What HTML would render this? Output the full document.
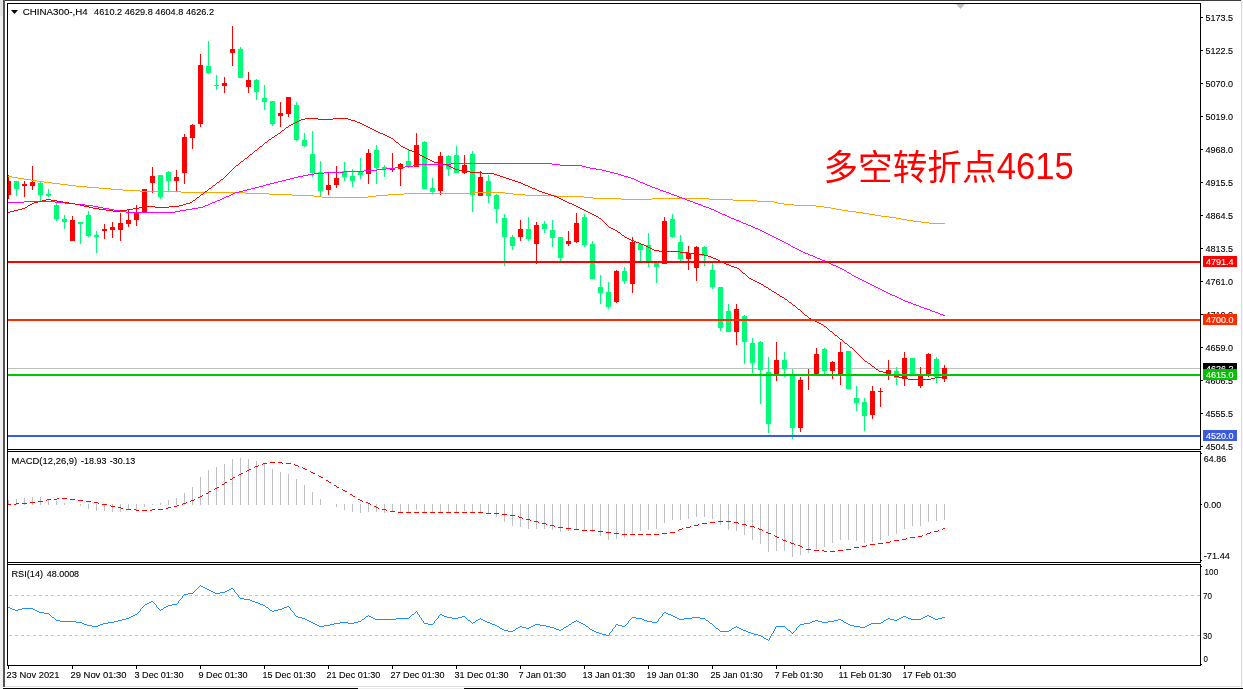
<!DOCTYPE html>
<html><head><meta charset="utf-8"><title>CHINA300 H4</title>
<style>html,body{margin:0;padding:0;background:#fff;}svg{display:block}text{font-family:"Liberation Sans",sans-serif;font-size:9.8px;fill:#000;stroke:#000;stroke-width:0.12px}.w{fill:#fff;stroke:#fff}.cr{shape-rendering:crispEdges}</style></head><body>
<svg width="1243" height="689" viewBox="0 0 1243 689">
<rect width="1243" height="689" fill="#fff"/>
<g class="cr">
<rect x="0" y="0" width="3" height="16" fill="#e4e4e4"/>
<rect x="0" y="16" width="3" height="673" fill="#f1f1f1"/>
<rect x="3" y="0" width="1238" height="1" fill="#3c3c3c"/>
<rect x="3" y="0" width="2" height="687" fill="#555"/>
<rect x="1241" y="0" width="1" height="687" fill="#dcdcdc"/>
<rect x="1242" y="0" width="1" height="689" fill="#f4f4f4"/>
<rect x="5" y="686" width="1237" height="1" fill="#e2e2e2"/>
<rect x="3" y="688" width="355" height="1" fill="#000"/>
<rect x="358" y="688" width="106" height="1" fill="#ececec"/>
<rect x="464" y="688" width="779" height="1" fill="#000"/>
</g>
<g class="cr">
<rect x="8" y="368" width="1192" height="1" fill="#c0c0c0"/>
<path d="M956 4H965L960.5 9Z" fill="#c0c0c0" shape-rendering="auto"/>
<clipPath id="cm"><rect x="8" y="4" width="1192" height="445"/></clipPath>
<g clip-path="url(#cm)">
<path d="M8 175h1v24h-1zM6 181h5v14h-5zM24 181h1v16h-1zM22 184h5v2h-5zM32 166h1v24h-1zM30 182h5v4h-5zM72 216h1v25h-1zM70 220h5v21h-5zM104 224h1v15h-1zM102 229h5v2h-5zM112 222h1v16h-1zM110 227h5v3h-5zM120 213h1v28h-1zM118 223h5v7h-5zM128 210h1v17h-1zM126 220h5v4h-5zM136 205h1v21h-1zM134 212h5v8h-5zM144 189h1v24h-1zM142 189h5v24h-5zM152 167h1v26h-1zM150 176h5v7h-5zM176 170h1v22h-1zM174 177h5v4h-5zM184 134h1v50h-1zM182 137h5v36h-5zM192 124h1v25h-1zM190 125h5v13h-5zM200 54h1v73h-1zM198 65h5v59h-5zM224 77h1v16h-1zM222 83h5v3h-5zM232 26h1v40h-1zM230 49h5v4h-5zM248 72h1v21h-1zM246 80h5v7h-5zM280 102h1v25h-1zM278 113h5v3h-5zM288 97h1v20h-1zM286 97h5v17h-5zM328 172h1v23h-1zM326 185h5v5h-5zM336 166h1v22h-1zM334 178h5v7h-5zM368 149h1v35h-1zM366 153h5v21h-5zM392 153h1v19h-1zM390 168h5v2h-5zM400 163h1v23h-1zM398 164h5v5h-5zM416 133h1v34h-1zM414 145h5v22h-5zM440 152h1v43h-1zM438 156h5v35h-5zM464 155h1v19h-1zM462 165h5v8h-5zM480 171h1v25h-1zM478 177h5v19h-5zM520 220h1v21h-1zM518 229h5v8h-5zM536 222h1v42h-1zM534 225h5v19h-5zM568 231h1v15h-1zM566 241h5v3h-5zM576 213h1v30h-1zM574 223h5v19h-5zM616 270h1v33h-1zM614 271h5v31h-5zM632 237h1v56h-1zM630 242h5v42h-5zM664 217h1v47h-1zM662 221h5v43h-5zM688 246h1v24h-1zM686 253h5v6h-5zM696 246h1v35h-1zM694 247h5v21h-5zM736 304h1v41h-1zM734 309h5v23h-5zM776 342h1v39h-1zM774 360h5v14h-5zM800 377h1v55h-1zM798 380h5v48h-5zM808 369h1v21h-1zM806 374h5v2h-5zM816 348h1v26h-1zM814 354h5v20h-5zM832 361h1v18h-1zM830 362h5v9h-5zM840 342h1v43h-1zM838 352h5v22h-5zM872 386h1v33h-1zM870 391h5v24h-5zM880 388h1v19h-1zM878 391h5v1h-5zM888 360h1v20h-1zM886 370h5v4h-5zM904 352h1v34h-1zM902 358h5v21h-5zM920 367h1v21h-1zM918 375h5v11h-5zM928 353h1v24h-1zM926 354h5v21h-5zM944 365h1v17h-1zM942 368h5v11h-5z" fill="#ff0000"/>
<path d="M16 181h1v15h-1zM14 181h5v8h-5zM40 181h1v20h-1zM38 183h5v12h-5zM48 189h1v8h-1zM46 194h5v2h-5zM56 203h1v18h-1zM54 205h5v14h-5zM64 215h1v14h-1zM62 219h5v3h-5zM80 222h1v22h-1zM78 222h5v2h-5zM88 211h1v26h-1zM86 215h5v21h-5zM96 231h1v22h-1zM94 235h5v2h-5zM160 175h1v24h-1zM158 175h5v22h-5zM168 171h1v21h-1zM166 172h5v9h-5zM208 41h1v33h-1zM206 66h5v7h-5zM216 75h1v15h-1zM214 85h5v1h-5zM240 47h1v31h-1zM238 49h5v29h-5zM256 79h1v21h-1zM254 80h5v12h-5zM264 85h1v25h-1zM262 98h5v4h-5zM272 101h1v25h-1zM270 101h5v23h-5zM296 102h1v39h-1zM294 105h5v35h-5zM304 133h1v14h-1zM302 140h5v6h-5zM312 131h1v46h-1zM310 154h5v19h-5zM320 161h1v35h-1zM318 172h5v19h-5zM344 162h1v19h-1zM342 171h5v6h-5zM352 169h1v18h-1zM350 176h5v5h-5zM360 158h1v21h-1zM358 171h5v4h-5zM376 145h1v39h-1zM374 150h5v18h-5zM384 165h1v12h-1zM382 167h5v2h-5zM408 150h1v18h-1zM406 161h5v5h-5zM424 141h1v48h-1zM422 142h5v47h-5zM432 178h1v15h-1zM430 188h5v4h-5zM448 155h1v21h-1zM446 156h5v13h-5zM456 146h1v27h-1zM454 155h5v18h-5zM472 151h1v61h-1zM470 154h5v41h-5zM488 175h1v28h-1zM486 181h5v15h-5zM496 194h1v29h-1zM494 195h5v14h-5zM504 214h1v52h-1zM502 218h5v19h-5zM512 235h1v15h-1zM510 237h5v9h-5zM528 217h1v24h-1zM526 229h5v10h-5zM544 221h1v12h-1zM542 224h5v5h-5zM552 220h1v27h-1zM550 230h5v8h-5zM560 237h1v25h-1zM558 237h5v21h-5zM584 214h1v33h-1zM582 217h5v28h-5zM592 241h1v38h-1zM590 244h5v35h-5zM600 275h1v29h-1zM598 287h5v6h-5zM608 282h1v27h-1zM606 292h5v15h-5zM624 267h1v17h-1zM622 271h5v10h-5zM640 243h1v18h-1zM638 244h5v6h-5zM648 233h1v34h-1zM646 245h5v16h-5zM656 262h1v21h-1zM654 263h5v4h-5zM672 214h1v24h-1zM670 219h5v18h-5zM680 235h1v26h-1zM678 242h5v17h-5zM704 246h1v20h-1zM702 247h5v9h-5zM712 261h1v28h-1zM710 270h5v17h-5zM720 287h1v44h-1zM718 287h5v41h-5zM728 304h1v28h-1zM726 311h5v21h-5zM744 315h1v49h-1zM742 316h5v26h-5zM752 338h1v35h-1zM750 343h5v20h-5zM760 341h1v63h-1zM758 342h5v28h-5zM768 357h1v76h-1zM766 372h5v52h-5zM784 352h1v25h-1zM782 360h5v9h-5zM792 369h1v70h-1zM790 374h5v54h-5zM824 348h1v26h-1zM822 349h5v22h-5zM848 351h1v38h-1zM846 351h5v38h-5zM856 386h1v25h-1zM854 398h5v5h-5zM864 398h1v33h-1zM862 402h5v14h-5zM896 367h1v18h-1zM894 371h5v7h-5zM912 358h1v17h-1zM910 358h5v17h-5zM936 357h1v26h-1zM934 359h5v18h-5z" fill="#00fd78"/>
</g>
<path d="M8 176h4v1h-4zM12 177h6v1h-6zM18 178h6v1h-6zM24 179h7v1h-7zM31 180h6v1h-6zM37 181h7v1h-7zM44 182h8v1h-8zM52 183h8v1h-8zM60 184h8v1h-8zM68 185h8v1h-8zM76 186h11v1h-11zM87 187h12v1h-12zM99 188h12v1h-12zM111 189h12v1h-12zM123 190h17v1h-17zM140 191h41v1h-41zM181 192h64v1h-64zM472 192h33v1h-33zM245 193h24v1h-24zM404 193h68v1h-68zM505 193h8v1h-8zM269 194h23v1h-23zM388 194h16v1h-16zM513 194h12v1h-12zM292 195h22v1h-22zM376 195h12v1h-12zM525 195h31v1h-31zM314 196h8v1h-8zM368 196h8v1h-8zM556 196h28v1h-28zM322 197h46v1h-46zM584 197h9v1h-9zM593 198h28v1h-28zM652 198h57v1h-57zM621 199h31v1h-31zM709 199h24v1h-24zM733 200h24v1h-24zM757 201h17v1h-17zM774 202h4v1h-4zM778 203h6v1h-6zM784 204h10v1h-10zM794 205h22v1h-22zM816 206h8v1h-8zM824 207h7v1h-7zM831 208h5v1h-5zM836 209h6v1h-6zM842 210h6v1h-6zM848 211h8v1h-8zM856 212h7v1h-7zM863 213h6v1h-6zM869 214h6v1h-6zM875 215h6v1h-6zM881 216h8v1h-8zM889 217h7v1h-7zM896 218h5v1h-5zM901 219h6v1h-6zM907 220h6v1h-6zM913 221h8v1h-8zM921 222h8v1h-8zM929 223h16v1h-16z" fill="#ffa500"/>
<path d="M451 163h101v1h-101zM419 164h32v1h-32zM552 164h8v1h-8zM413 165h6v1h-6zM560 165h22v1h-22zM405 166h8v1h-8zM582 166h4v1h-4zM395 167h10v1h-10zM586 167h4v1h-4zM386 168h9v1h-9zM590 168h6v1h-6zM377 169h9v1h-9zM596 169h6v1h-6zM364 170h13v1h-13zM602 170h4v1h-4zM344 171h20v1h-20zM606 171h4v1h-4zM324 172h20v1h-20zM610 172h4v1h-4zM314 173h10v1h-10zM614 173h4v1h-4zM308 174h6v1h-6zM618 174h3v1h-3zM303 175h5v1h-5zM621 175h3v1h-3zM298 176h5v1h-5zM624 176h4v1h-4zM294 177h4v1h-4zM628 177h3v1h-3zM290 178h4v1h-4zM631 178h3v1h-3zM286 179h4v1h-4zM634 179h2v1h-2zM282 180h4v1h-4zM636 180h2v1h-2zM278 181h4v1h-4zM638 181h2v1h-2zM274 182h4v1h-4zM640 182h3v1h-3zM270 183h4v1h-4zM643 183h2v1h-2zM266 184h4v1h-4zM645 184h2v1h-2zM263 185h3v1h-3zM647 185h3v1h-3zM259 186h4v1h-4zM650 186h2v1h-2zM255 187h4v1h-4zM652 187h3v1h-3zM251 188h4v1h-4zM655 188h3v1h-3zM247 189h4v1h-4zM658 189h2v1h-2zM243 190h4v1h-4zM660 190h3v1h-3zM239 191h4v1h-4zM663 191h3v1h-3zM235 192h4v1h-4zM666 192h3v1h-3zM233 193h2v1h-2zM669 193h2v1h-2zM231 194h2v1h-2zM671 194h3v1h-3zM229 195h2v1h-2zM674 195h3v1h-3zM226 196h3v1h-3zM677 196h2v1h-2zM224 197h2v1h-2zM679 197h3v1h-3zM222 198h2v1h-2zM682 198h3v1h-3zM220 199h2v1h-2zM685 199h2v1h-2zM217 200h3v1h-3zM687 200h3v1h-3zM24 201h31v1h-31zM215 201h2v1h-2zM690 201h3v1h-3zM8 202h16v1h-16zM55 202h10v1h-10zM212 202h3v1h-3zM693 202h2v1h-2zM65 203h10v1h-10zM210 203h2v1h-2zM695 203h3v1h-3zM75 204h10v1h-10zM208 204h2v1h-2zM698 204h3v1h-3zM85 205h8v1h-8zM205 205h3v1h-3zM701 205h2v1h-2zM93 206h5v1h-5zM203 206h2v1h-2zM703 206h3v1h-3zM98 207h5v1h-5zM198 207h5v1h-5zM706 207h3v1h-3zM103 208h6v1h-6zM192 208h6v1h-6zM709 208h2v1h-2zM109 209h5v1h-5zM186 209h6v1h-6zM711 209h3v1h-3zM114 210h6v1h-6zM180 210h6v1h-6zM714 210h2v1h-2zM120 211h6v1h-6zM175 211h5v1h-5zM716 211h2v1h-2zM126 212h49v1h-49zM718 212h2v1h-2zM720 213h2v1h-2zM722 214h3v1h-3zM725 215h2v1h-2zM727 216h2v1h-2zM729 217h2v1h-2zM731 218h3v1h-3zM734 219h2v1h-2zM736 220h3v1h-3zM739 221h2v1h-2zM741 222h2v1h-2zM743 223h3v1h-3zM746 224h2v1h-2zM748 225h3v1h-3zM751 226h2v1h-2zM753 227h2v1h-2zM755 228h3v1h-3zM758 229h2v1h-2zM760 230h2v1h-2zM762 231h2v1h-2zM764 232h2v1h-2zM766 233h2v1h-2zM768 234h2v1h-2zM770 235h2v1h-2zM772 236h2v1h-2zM774 237h2v1h-2zM776 238h2v1h-2zM778 239h2v1h-2zM780 240h2v1h-2zM782 241h2v1h-2zM784 242h2v1h-2zM786 243h2v1h-2zM788 244h2v1h-2zM790 245h1v1h-1zM791 246h2v1h-2zM793 247h2v1h-2zM795 248h2v1h-2zM797 249h2v1h-2zM799 250h2v1h-2zM801 251h2v1h-2zM803 252h2v1h-2zM805 253h3v1h-3zM808 254h2v1h-2zM810 255h3v1h-3zM813 256h2v1h-2zM815 257h2v1h-2zM817 258h3v1h-3zM820 259h2v1h-2zM822 260h3v1h-3zM825 261h2v1h-2zM827 262h2v1h-2zM829 263h2v1h-2zM831 264h2v1h-2zM833 265h3v1h-3zM836 266h2v1h-2zM838 267h2v1h-2zM840 268h2v1h-2zM842 269h2v1h-2zM844 270h2v1h-2zM846 271h1v1h-1zM847 272h2v1h-2zM849 273h2v1h-2zM851 274h1v1h-1zM852 275h2v1h-2zM854 276h2v1h-2zM856 277h2v1h-2zM858 278h2v1h-2zM860 279h2v1h-2zM862 280h2v1h-2zM864 281h2v1h-2zM866 282h2v1h-2zM868 283h2v1h-2zM870 284h2v1h-2zM872 285h2v1h-2zM874 286h2v1h-2zM876 287h2v1h-2zM878 288h2v1h-2zM880 289h2v1h-2zM882 290h2v1h-2zM884 291h2v1h-2zM886 292h2v1h-2zM888 293h2v1h-2zM890 294h2v1h-2zM892 295h3v1h-3zM895 296h2v1h-2zM897 297h2v1h-2zM899 298h2v1h-2zM901 299h2v1h-2zM903 300h2v1h-2zM905 301h3v1h-3zM908 302h3v1h-3zM911 303h2v1h-2zM913 304h3v1h-3zM916 305h3v1h-3zM919 306h2v1h-2zM921 307h3v1h-3zM924 308h3v1h-3zM927 309h3v1h-3zM930 310h2v1h-2zM932 311h3v1h-3zM935 312h3v1h-3zM938 313h2v1h-2zM940 314h3v1h-3zM943 315h2v1h-2z" fill="#ff00ff"/>
<path d="M305 118h13v1h-13zM333 118h15v1h-15zM301 119h4v1h-4zM318 119h15v1h-15zM348 119h3v1h-3zM299 120h2v1h-2zM351 120h4v1h-4zM297 121h2v1h-2zM355 121h2v1h-2zM295 122h2v1h-2zM357 122h3v1h-3zM293 123h2v1h-2zM360 123h2v1h-2zM291 124h2v1h-2zM362 124h2v1h-2zM289 125h2v1h-2zM364 125h2v1h-2zM288 126h1v1h-1zM366 126h2v1h-2zM286 127h2v1h-2zM368 127h2v1h-2zM285 128h1v1h-1zM370 128h2v1h-2zM284 129h1v1h-1zM372 129h2v1h-2zM282 130h2v1h-2zM374 130h2v1h-2zM281 131h1v1h-1zM376 131h2v1h-2zM280 132h1v1h-1zM378 132h2v1h-2zM278 133h2v1h-2zM380 133h3v1h-3zM277 134h1v1h-1zM383 134h2v1h-2zM275 135h2v1h-2zM385 135h2v1h-2zM274 136h1v1h-1zM387 136h2v1h-2zM272 137h2v1h-2zM389 137h2v1h-2zM271 138h1v1h-1zM391 138h2v1h-2zM269 139h2v1h-2zM393 139h1v1h-1zM268 140h1v1h-1zM394 140h1v1h-1zM267 141h1v1h-1zM395 141h1v1h-1zM265 142h2v1h-2zM396 142h2v1h-2zM264 143h1v1h-1zM398 143h1v1h-1zM263 144h1v1h-1zM399 144h1v1h-1zM262 145h1v1h-1zM400 145h1v1h-1zM260 146h2v1h-2zM401 146h2v1h-2zM259 147h1v1h-1zM403 147h2v1h-2zM258 148h1v1h-1zM405 148h2v1h-2zM257 149h1v1h-1zM407 149h2v1h-2zM255 150h2v1h-2zM409 150h3v1h-3zM254 151h1v1h-1zM412 151h2v1h-2zM253 152h1v1h-1zM414 152h2v1h-2zM252 153h1v1h-1zM416 153h2v1h-2zM250 154h2v1h-2zM418 154h2v1h-2zM249 155h1v1h-1zM420 155h2v1h-2zM248 156h1v1h-1zM422 156h2v1h-2zM247 157h1v1h-1zM424 157h2v1h-2zM245 158h2v1h-2zM426 158h2v1h-2zM244 159h1v1h-1zM428 159h2v1h-2zM243 160h1v1h-1zM430 160h2v1h-2zM241 161h2v1h-2zM432 161h2v1h-2zM240 162h1v1h-1zM434 162h4v1h-4zM239 163h1v1h-1zM438 163h5v1h-5zM238 164h1v1h-1zM443 164h4v1h-4zM236 165h2v1h-2zM447 165h2v1h-2zM235 166h1v1h-1zM449 166h2v1h-2zM234 167h1v1h-1zM451 167h2v1h-2zM233 168h1v1h-1zM453 168h2v1h-2zM232 169h1v1h-1zM455 169h4v1h-4zM231 170h1v1h-1zM459 170h5v1h-5zM230 171h1v1h-1zM464 171h6v1h-6zM229 172h1v1h-1zM470 172h12v1h-12zM228 173h1v1h-1zM482 173h12v1h-12zM227 174h1v1h-1zM494 174h3v1h-3zM226 175h1v1h-1zM497 175h3v1h-3zM225 176h1v1h-1zM500 176h3v1h-3zM224 177h1v1h-1zM503 177h3v1h-3zM223 178h1v1h-1zM506 178h3v1h-3zM221 179h2v1h-2zM509 179h3v1h-3zM220 180h1v1h-1zM512 180h3v1h-3zM219 181h1v1h-1zM515 181h3v1h-3zM217 182h2v1h-2zM518 182h3v1h-3zM216 183h1v1h-1zM521 183h2v1h-2zM215 184h1v1h-1zM523 184h2v1h-2zM213 185h2v1h-2zM525 185h3v1h-3zM212 186h1v1h-1zM528 186h2v1h-2zM211 187h1v1h-1zM530 187h2v1h-2zM209 188h2v1h-2zM532 188h3v1h-3zM208 189h1v1h-1zM535 189h2v1h-2zM207 190h1v1h-1zM537 190h2v1h-2zM205 191h2v1h-2zM539 191h3v1h-3zM204 192h1v1h-1zM542 192h3v1h-3zM203 193h1v1h-1zM545 193h3v1h-3zM201 194h2v1h-2zM548 194h3v1h-3zM200 195h1v1h-1zM551 195h3v1h-3zM199 196h1v1h-1zM554 196h3v1h-3zM197 197h2v1h-2zM557 197h2v1h-2zM196 198h1v1h-1zM559 198h2v1h-2zM46 199h5v1h-5zM195 199h1v1h-1zM561 199h2v1h-2zM42 200h4v1h-4zM51 200h6v1h-6zM193 200h2v1h-2zM563 200h2v1h-2zM38 201h4v1h-4zM57 201h6v1h-6zM192 201h1v1h-1zM565 201h2v1h-2zM34 202h4v1h-4zM63 202h6v1h-6zM190 202h2v1h-2zM567 202h2v1h-2zM32 203h2v1h-2zM69 203h6v1h-6zM186 203h4v1h-4zM569 203h3v1h-3zM30 204h2v1h-2zM75 204h5v1h-5zM183 204h3v1h-3zM572 204h2v1h-2zM28 205h2v1h-2zM80 205h4v1h-4zM179 205h4v1h-4zM574 205h2v1h-2zM27 206h1v1h-1zM84 206h5v1h-5zM146 206h9v1h-9zM169 206h10v1h-10zM576 206h2v1h-2zM25 207h2v1h-2zM89 207h4v1h-4zM139 207h7v1h-7zM155 207h14v1h-14zM578 207h2v1h-2zM22 208h3v1h-3zM93 208h6v1h-6zM133 208h6v1h-6zM580 208h2v1h-2zM18 209h4v1h-4zM99 209h7v1h-7zM127 209h6v1h-6zM582 209h2v1h-2zM14 210h4v1h-4zM106 210h7v1h-7zM120 210h7v1h-7zM584 210h2v1h-2zM10 211h4v1h-4zM113 211h7v1h-7zM586 211h2v1h-2zM8 212h2v1h-2zM588 212h2v1h-2zM590 213h2v1h-2zM592 214h2v1h-2zM594 215h2v1h-2zM596 216h2v1h-2zM598 217h1v1h-1zM599 218h2v1h-2zM601 219h1v1h-1zM602 220h1v1h-1zM603 221h1v1h-1zM604 222h1v1h-1zM605 223h1v1h-1zM606 224h1v1h-1zM607 225h1v1h-1zM608 226h1v1h-1zM609 227h2v1h-2zM611 228h2v1h-2zM613 229h2v1h-2zM615 230h2v1h-2zM617 231h1v1h-1zM618 232h2v1h-2zM620 233h1v1h-1zM621 234h1v1h-1zM622 235h2v1h-2zM624 236h1v1h-1zM625 237h2v1h-2zM627 238h2v1h-2zM629 239h2v1h-2zM631 240h3v1h-3zM634 241h2v1h-2zM636 242h3v1h-3zM639 243h2v1h-2zM641 244h3v1h-3zM644 245h2v1h-2zM646 246h2v1h-2zM648 247h2v1h-2zM650 248h2v1h-2zM652 249h2v1h-2zM654 250h5v1h-5zM659 251h21v1h-21zM680 252h8v1h-8zM688 253h10v1h-10zM698 254h6v1h-6zM704 255h4v1h-4zM708 256h3v1h-3zM711 257h2v1h-2zM713 258h3v1h-3zM716 259h2v1h-2zM718 260h2v1h-2zM720 261h2v1h-2zM722 262h2v1h-2zM724 263h2v1h-2zM726 264h3v1h-3zM729 265h2v1h-2zM731 266h3v1h-3zM734 267h3v1h-3zM737 268h2v1h-2zM739 269h1v1h-1zM740 270h1v1h-1zM741 271h1v1h-1zM742 272h1v1h-1zM743 273h2v1h-2zM745 274h1v1h-1zM746 275h1v1h-1zM747 276h1v1h-1zM748 277h1v1h-1zM749 278h2v1h-2zM751 279h2v1h-2zM753 280h2v1h-2zM755 281h2v1h-2zM757 282h2v1h-2zM759 283h2v1h-2zM761 284h2v1h-2zM763 285h1v1h-1zM764 286h2v1h-2zM766 287h2v1h-2zM768 288h1v1h-1zM769 289h2v1h-2zM771 290h1v1h-1zM772 291h2v1h-2zM774 292h2v1h-2zM776 293h1v1h-1zM777 294h2v1h-2zM779 295h1v1h-1zM780 296h2v1h-2zM782 297h2v1h-2zM784 298h1v1h-1zM785 299h2v1h-2zM787 300h1v1h-1zM788 301h1v1h-1zM789 302h2v1h-2zM791 303h1v1h-1zM792 304h1v1h-1zM793 305h2v1h-2zM795 306h1v1h-1zM796 307h1v1h-1zM797 308h1v1h-1zM798 309h2v1h-2zM800 310h1v1h-1zM801 311h1v1h-1zM802 312h1v1h-1zM803 313h1v1h-1zM804 314h1v1h-1zM805 315h2v1h-2zM807 316h1v1h-1zM808 317h1v1h-1zM809 318h2v1h-2zM811 319h2v1h-2zM813 320h2v1h-2zM815 321h2v1h-2zM817 322h2v1h-2zM819 323h2v1h-2zM821 324h2v1h-2zM823 325h1v1h-1zM824 326h2v1h-2zM826 327h1v1h-1zM827 328h1v1h-1zM828 329h1v1h-1zM829 330h1v1h-1zM830 331h2v1h-2zM832 332h1v1h-1zM833 333h1v1h-1zM834 334h1v1h-1zM835 335h2v1h-2zM837 336h1v1h-1zM838 337h1v1h-1zM839 338h1v1h-1zM840 339h2v1h-2zM842 340h1v1h-1zM843 341h1v1h-1zM844 342h1v1h-1zM845 343h2v1h-2zM847 344h1v1h-1zM848 345h1v1h-1zM849 346h1v1h-1zM850 347h2v1h-2zM852 348h1v1h-1zM853 349h1v1h-1zM854 350h1v1h-1zM855 351h1v1h-1zM856 352h1v1h-1zM857 353h1v1h-1zM858 354h1v1h-1zM859 355h1v1h-1zM860 356h1v1h-1zM861 357h1v1h-1zM862 358h1v1h-1zM863 359h1v1h-1zM864 360h1v1h-1zM865 361h2v1h-2zM867 362h1v1h-1zM868 363h2v1h-2zM870 364h1v1h-1zM871 365h1v1h-1zM872 366h2v1h-2zM874 367h1v1h-1zM875 368h1v1h-1zM876 369h2v1h-2zM878 370h1v1h-1zM879 371h4v1h-4zM883 372h5v1h-5zM888 373h2v1h-2zM890 374h2v1h-2zM892 375h2v1h-2zM894 376h5v1h-5zM899 377h5v1h-5zM935 377h10v1h-10zM904 378h4v1h-4zM931 378h4v1h-4zM908 379h23v1h-23z" fill="#ff0000"/>
<rect x="8" y="261" width="1192" height="2" fill="#ff0000"/>
<rect x="8" y="319" width="1192" height="2" fill="#ff2a00"/>
<rect x="8" y="374" width="1192" height="2" fill="#00c800"/>
<rect x="8" y="435" width="1192" height="2" fill="#3a5ae0"/>
<clipPath id="c2"><rect x="8" y="452" width="1192" height="110"/></clipPath>
<path d="M8 500h1v5h-1zM16 499h1v6h-1zM24 498h1v7h-1zM32 497h1v8h-1zM40 497h1v8h-1zM48 499h1v6h-1zM56 501h1v4h-1zM64 503h1v2h-1zM80 504h1v2h-1zM88 504h1v5h-1zM96 504h1v7h-1zM104 504h1v7h-1zM112 504h1v8h-1zM120 504h1v8h-1zM128 504h1v6h-1zM136 504h1v6h-1zM144 504h1v3h-1zM152 504h1v1h-1zM160 503h1v2h-1zM168 500h1v5h-1zM176 498h1v7h-1zM184 493h1v12h-1zM192 487h1v18h-1zM200 477h1v28h-1zM208 470h1v35h-1zM216 467h1v38h-1zM224 464h1v41h-1zM232 459h1v46h-1zM240 458h1v47h-1zM248 459h1v46h-1zM256 461h1v44h-1zM264 464h1v41h-1zM272 469h1v36h-1zM280 472h1v33h-1zM288 474h1v31h-1zM296 479h1v26h-1zM304 485h1v20h-1zM312 492h1v13h-1zM320 499h1v6h-1zM336 504h1v3h-1zM344 504h1v6h-1zM352 504h1v8h-1zM360 504h1v9h-1zM368 504h1v8h-1zM376 504h1v8h-1zM384 504h1v9h-1zM392 504h1v8h-1zM400 504h1v8h-1zM408 504h1v8h-1zM416 504h1v6h-1zM424 504h1v8h-1zM432 504h1v9h-1zM440 504h1v8h-1zM448 504h1v8h-1zM456 504h1v8h-1zM464 504h1v7h-1zM472 504h1v8h-1zM480 504h1v8h-1zM488 504h1v10h-1zM496 504h1v13h-1zM504 504h1v18h-1zM512 504h1v22h-1zM520 504h1v23h-1zM528 504h1v25h-1zM536 504h1v25h-1zM544 504h1v25h-1zM552 504h1v26h-1zM560 504h1v28h-1zM568 504h1v27h-1zM576 504h1v25h-1zM584 504h1v26h-1zM592 504h1v28h-1zM600 504h1v32h-1zM608 504h1v36h-1zM616 504h1v35h-1zM624 504h1v34h-1zM632 504h1v30h-1zM640 504h1v27h-1zM648 504h1v26h-1zM656 504h1v25h-1zM664 504h1v19h-1zM672 504h1v16h-1zM680 504h1v16h-1zM688 504h1v15h-1zM696 504h1v13h-1zM704 504h1v13h-1zM712 504h1v15h-1zM720 504h1v21h-1zM728 504h1v26h-1zM736 504h1v27h-1zM744 504h1v31h-1zM752 504h1v36h-1zM760 504h1v40h-1zM768 504h1v48h-1zM776 504h1v47h-1zM784 504h1v47h-1zM792 504h1v53h-1zM800 504h1v51h-1zM808 504h1v49h-1zM816 504h1v45h-1zM824 504h1v43h-1zM832 504h1v39h-1zM840 504h1v36h-1zM848 504h1v36h-1zM856 504h1v37h-1zM864 504h1v39h-1zM872 504h1v38h-1zM880 504h1v36h-1zM888 504h1v32h-1zM896 504h1v30h-1zM904 504h1v25h-1zM912 504h1v22h-1zM920 504h1v22h-1zM928 504h1v18h-1zM936 504h1v17h-1zM944 504h1v16h-1z" fill="#c0c0c0" clip-path="url(#c2)"/>
<path d="M270 462h5v1h-5zM278 462h4v1h-4zM263 463h4v1h-4zM282 463h1v1h-1zM286 463h5v1h-5zM262 464h1v1h-1zM294 464h1v1h-1zM258 465h1v1h-1zM295 465h3v1h-3zM255 466h3v1h-3zM298 466h1v1h-1zM254 467h1v1h-1zM302 467h1v1h-1zM303 468h2v1h-2zM249 469h2v1h-2zM305 469h2v1h-2zM247 470h2v1h-2zM246 471h1v1h-1zM310 471h1v1h-1zM311 472h2v1h-2zM241 473h2v1h-2zM313 473h2v1h-2zM239 474h2v1h-2zM238 475h1v1h-1zM318 475h1v1h-1zM319 476h2v1h-2zM233 477h2v1h-2zM321 477h2v1h-2zM232 478h1v1h-1zM230 479h2v1h-2zM326 480h2v1h-2zM328 481h1v1h-1zM225 482h2v1h-2zM329 482h2v1h-2zM224 483h1v1h-1zM222 484h2v1h-2zM334 485h2v1h-2zM336 486h1v1h-1zM217 487h2v1h-2zM337 487h2v1h-2zM215 488h2v1h-2zM214 489h1v1h-1zM342 489h1v1h-1zM343 490h2v1h-2zM209 491h2v1h-2zM345 491h2v1h-2zM208 492h1v1h-1zM206 493h2v1h-2zM350 494h2v1h-2zM202 495h1v1h-1zM352 495h1v1h-1zM200 496h2v1h-2zM353 496h2v1h-2zM198 497h2v1h-2zM57 498h2v1h-2zM62 498h5v1h-5zM47 499h4v1h-4zM54 499h3v1h-3zM70 499h5v1h-5zM194 499h1v1h-1zM358 499h2v1h-2zM46 500h1v1h-1zM78 500h5v1h-5zM191 500h3v1h-3zM360 500h2v1h-2zM38 501h5v1h-5zM86 501h5v1h-5zM190 501h1v1h-1zM362 501h1v1h-1zM30 502h5v1h-5zM94 502h4v1h-4zM186 502h1v1h-1zM366 502h2v1h-2zM16 503h3v1h-3zM22 503h5v1h-5zM98 503h1v1h-1zM183 503h3v1h-3zM368 503h2v1h-2zM8 504h3v1h-3zM14 504h2v1h-2zM102 504h5v1h-5zM182 504h1v1h-1zM370 504h1v1h-1zM110 505h1v1h-1zM177 505h2v1h-2zM111 506h4v1h-4zM174 506h3v1h-3zM374 506h2v1h-2zM118 507h3v1h-3zM168 507h3v1h-3zM376 507h2v1h-2zM121 508h2v1h-2zM166 508h2v1h-2zM378 508h1v1h-1zM126 509h5v1h-5zM134 509h2v1h-2zM152 509h3v1h-3zM158 509h5v1h-5zM382 509h4v1h-4zM136 510h3v1h-3zM142 510h5v1h-5zM150 510h2v1h-2zM386 510h1v1h-1zM390 511h5v1h-5zM398 512h5v1h-5zM406 512h5v1h-5zM414 512h5v1h-5zM422 512h5v1h-5zM430 512h5v1h-5zM438 512h5v1h-5zM446 512h5v1h-5zM454 512h5v1h-5zM462 512h5v1h-5zM470 512h5v1h-5zM478 512h5v1h-5zM486 513h5v1h-5zM494 513h5v1h-5zM502 514h5v1h-5zM510 515h5v1h-5zM518 516h1v1h-1zM519 517h3v1h-3zM522 518h1v1h-1zM526 519h4v1h-4zM530 520h1v1h-1zM534 521h4v1h-4zM718 521h5v1h-5zM726 521h5v1h-5zM538 522h1v1h-1zM710 522h5v1h-5zM734 522h4v1h-4zM542 523h4v1h-4zM702 523h5v1h-5zM738 523h1v1h-1zM546 524h1v1h-1zM698 524h1v1h-1zM742 524h4v1h-4zM550 525h4v1h-4zM694 525h4v1h-4zM746 525h1v1h-1zM554 526h1v1h-1zM690 526h1v1h-1zM750 526h4v1h-4zM558 527h5v1h-5zM686 527h4v1h-4zM754 527h1v1h-1zM566 528h5v1h-5zM682 528h1v1h-1zM758 528h1v1h-1zM943 528h2v1h-2zM574 529h5v1h-5zM679 529h3v1h-3zM759 529h3v1h-3zM942 529h1v1h-1zM582 530h5v1h-5zM590 530h5v1h-5zM678 530h1v1h-1zM762 530h1v1h-1zM938 530h1v1h-1zM598 531h5v1h-5zM934 531h4v1h-4zM606 532h5v1h-5zM670 532h5v1h-5zM766 532h2v1h-2zM930 532h1v1h-1zM614 533h5v1h-5zM662 533h5v1h-5zM768 533h3v1h-3zM927 533h3v1h-3zM622 534h5v1h-5zM630 534h5v1h-5zM638 534h5v1h-5zM646 534h5v1h-5zM654 534h5v1h-5zM926 534h1v1h-1zM774 535h1v1h-1zM922 535h1v1h-1zM775 536h2v1h-2zM918 536h4v1h-4zM777 537h2v1h-2zM910 537h5v1h-5zM906 538h1v1h-1zM782 539h1v1h-1zM902 539h4v1h-4zM783 540h3v1h-3zM894 540h5v1h-5zM786 541h1v1h-1zM890 541h1v1h-1zM790 542h1v1h-1zM886 542h4v1h-4zM791 543h3v1h-3zM878 543h5v1h-5zM794 544h1v1h-1zM870 544h5v1h-5zM798 545h2v1h-2zM866 545h1v1h-1zM800 546h2v1h-2zM862 546h4v1h-4zM802 547h1v1h-1zM854 547h5v1h-5zM806 549h5v1h-5zM846 549h5v1h-5zM814 550h5v1h-5zM822 550h2v1h-2zM838 550h5v1h-5zM824 551h3v1h-3zM830 551h5v1h-5z" fill="#ff0000"/>
<path d="M9 595.5H1200" stroke="#c4c4c4" stroke-width="1" stroke-dasharray="3 3" fill="none"/>
<path d="M9 635.5H1200" stroke="#c4c4c4" stroke-width="1" stroke-dasharray="3 3" fill="none"/>
<path d="M200 585h1v1h-1zM199 586h1v1h-1zM201 586h2v1h-2zM198 587h1v1h-1zM203 587h2v1h-2zM197 588h1v1h-1zM205 588h2v1h-2zM231 588h2v1h-2zM196 589h1v1h-1zM207 589h2v1h-2zM229 589h2v1h-2zM233 589h1v1h-1zM195 590h1v1h-1zM209 590h2v1h-2zM227 590h2v1h-2zM234 590h1v1h-1zM194 591h1v1h-1zM211 591h2v1h-2zM225 591h2v1h-2zM234 591h1v1h-1zM193 592h1v1h-1zM213 592h2v1h-2zM220 592h5v1h-5zM235 592h1v1h-1zM188 593h5v1h-5zM215 593h5v1h-5zM236 593h1v1h-1zM184 594h4v1h-4zM237 594h1v1h-1zM183 595h1v1h-1zM238 595h1v1h-1zM182 596h1v1h-1zM238 596h1v1h-1zM182 597h1v1h-1zM239 597h1v1h-1zM181 598h1v1h-1zM240 598h4v1h-4zM180 599h1v1h-1zM244 599h6v1h-6zM179 600h1v1h-1zM250 600h2v1h-2zM151 601h2v1h-2zM178 601h1v1h-1zM252 601h3v1h-3zM149 602h2v1h-2zM153 602h1v1h-1zM178 602h1v1h-1zM255 602h3v1h-3zM147 603h2v1h-2zM154 603h1v1h-1zM177 603h1v1h-1zM258 603h2v1h-2zM145 604h2v1h-2zM155 604h1v1h-1zM172 604h5v1h-5zM260 604h3v1h-3zM144 605h1v1h-1zM156 605h1v1h-1zM168 605h4v1h-4zM263 605h2v1h-2zM143 606h1v1h-1zM156 606h1v1h-1zM166 606h2v1h-2zM265 606h1v1h-1zM287 606h2v1h-2zM8 607h2v1h-2zM142 607h1v1h-1zM157 607h1v1h-1zM164 607h2v1h-2zM266 607h2v1h-2zM284 607h3v1h-3zM289 607h1v1h-1zM10 608h2v1h-2zM22 608h11v1h-11zM141 608h1v1h-1zM158 608h1v1h-1zM163 608h1v1h-1zM268 608h1v1h-1zM282 608h2v1h-2zM290 608h1v1h-1zM12 609h3v1h-3zM18 609h4v1h-4zM33 609h2v1h-2zM140 609h1v1h-1zM159 609h1v1h-1zM161 609h2v1h-2zM269 609h1v1h-1zM278 609h4v1h-4zM290 609h1v1h-1zM15 610h3v1h-3zM35 610h2v1h-2zM140 610h1v1h-1zM160 610h1v1h-1zM270 610h2v1h-2zM274 610h4v1h-4zM291 610h1v1h-1zM37 611h2v1h-2zM139 611h1v1h-1zM272 611h2v1h-2zM292 611h1v1h-1zM416 611h1v1h-1zM39 612h5v1h-5zM138 612h1v1h-1zM293 612h1v1h-1zM415 612h1v1h-1zM417 612h1v1h-1zM664 612h2v1h-2zM44 613h5v1h-5zM137 613h1v1h-1zM294 613h1v1h-1zM414 613h1v1h-1zM417 613h1v1h-1zM663 613h1v1h-1zM666 613h2v1h-2zM49 614h1v1h-1zM135 614h2v1h-2zM294 614h1v1h-1zM412 614h2v1h-2zM418 614h1v1h-1zM440 614h2v1h-2zM662 614h1v1h-1zM668 614h3v1h-3zM50 615h1v1h-1zM133 615h2v1h-2zM295 615h1v1h-1zM368 615h1v1h-1zM411 615h1v1h-1zM419 615h1v1h-1zM439 615h1v1h-1zM442 615h2v1h-2zM662 615h1v1h-1zM671 615h2v1h-2zM927 615h2v1h-2zM51 616h1v1h-1zM131 616h2v1h-2zM296 616h2v1h-2zM366 616h2v1h-2zM369 616h2v1h-2zM410 616h1v1h-1zM419 616h1v1h-1zM438 616h1v1h-1zM444 616h3v1h-3zM462 616h3v1h-3zM661 616h1v1h-1zM673 616h2v1h-2zM903 616h3v1h-3zM925 616h2v1h-2zM929 616h2v1h-2zM52 617h2v1h-2zM129 617h2v1h-2zM298 617h4v1h-4zM365 617h1v1h-1zM371 617h2v1h-2zM409 617h1v1h-1zM420 617h1v1h-1zM438 617h1v1h-1zM447 617h5v1h-5zM458 617h4v1h-4zM465 617h1v1h-1zM632 617h4v1h-4zM660 617h1v1h-1zM675 617h2v1h-2zM692 617h8v1h-8zM901 617h2v1h-2zM906 617h2v1h-2zM923 617h2v1h-2zM931 617h2v1h-2zM942 617h3v1h-3zM54 618h1v1h-1zM126 618h3v1h-3zM302 618h3v1h-3zM364 618h1v1h-1zM373 618h2v1h-2zM396 618h13v1h-13zM421 618h1v1h-1zM437 618h1v1h-1zM452 618h6v1h-6zM466 618h1v1h-1zM480 618h1v1h-1zM631 618h1v1h-1zM636 618h6v1h-6zM659 618h1v1h-1zM677 618h2v1h-2zM684 618h8v1h-8zM700 618h5v1h-5zM888 618h2v1h-2zM899 618h2v1h-2zM908 618h3v1h-3zM921 618h2v1h-2zM933 618h2v1h-2zM938 618h4v1h-4zM55 619h1v1h-1zM122 619h4v1h-4zM305 619h2v1h-2zM362 619h2v1h-2zM375 619h21v1h-21zM421 619h1v1h-1zM436 619h1v1h-1zM467 619h1v1h-1zM478 619h2v1h-2zM481 619h2v1h-2zM630 619h1v1h-1zM642 619h2v1h-2zM658 619h1v1h-1zM679 619h5v1h-5zM705 619h1v1h-1zM838 619h3v1h-3zM886 619h2v1h-2zM890 619h4v1h-4zM897 619h2v1h-2zM911 619h10v1h-10zM935 619h3v1h-3zM56 620h4v1h-4zM118 620h4v1h-4zM307 620h2v1h-2zM361 620h1v1h-1zM422 620h1v1h-1zM435 620h1v1h-1zM468 620h2v1h-2zM476 620h2v1h-2zM483 620h2v1h-2zM576 620h1v1h-1zM629 620h1v1h-1zM644 620h3v1h-3zM658 620h1v1h-1zM706 620h2v1h-2zM815 620h3v1h-3zM834 620h4v1h-4zM841 620h2v1h-2zM884 620h2v1h-2zM894 620h3v1h-3zM60 621h16v1h-16zM114 621h4v1h-4zM309 621h2v1h-2zM358 621h3v1h-3zM423 621h1v1h-1zM434 621h1v1h-1zM470 621h1v1h-1zM475 621h1v1h-1zM485 621h2v1h-2zM574 621h2v1h-2zM577 621h2v1h-2zM628 621h1v1h-1zM647 621h5v1h-5zM657 621h1v1h-1zM708 621h1v1h-1zM812 621h3v1h-3zM818 621h4v1h-4zM828 621h6v1h-6zM843 621h1v1h-1zM883 621h1v1h-1zM76 622h6v1h-6zM108 622h6v1h-6zM311 622h2v1h-2zM340 622h8v1h-8zM354 622h4v1h-4zM423 622h1v1h-1zM434 622h1v1h-1zM471 622h1v1h-1zM473 622h2v1h-2zM487 622h3v1h-3zM572 622h2v1h-2zM579 622h2v1h-2zM628 622h1v1h-1zM652 622h5v1h-5zM709 622h1v1h-1zM810 622h2v1h-2zM822 622h6v1h-6zM844 622h2v1h-2zM881 622h2v1h-2zM82 623h2v1h-2zM103 623h5v1h-5zM313 623h2v1h-2zM334 623h6v1h-6zM348 623h6v1h-6zM424 623h4v1h-4zM433 623h1v1h-1zM472 623h1v1h-1zM490 623h2v1h-2zM571 623h1v1h-1zM581 623h2v1h-2zM627 623h1v1h-1zM710 623h2v1h-2zM804 623h6v1h-6zM846 623h2v1h-2zM871 623h10v1h-10zM84 624h3v1h-3zM100 624h3v1h-3zM315 624h2v1h-2zM330 624h4v1h-4zM428 624h5v1h-5zM492 624h3v1h-3zM535 624h5v1h-5zM569 624h2v1h-2zM583 624h2v1h-2zM616 624h2v1h-2zM626 624h1v1h-1zM712 624h1v1h-1zM800 624h4v1h-4zM848 624h2v1h-2zM869 624h2v1h-2zM87 625h5v1h-5zM98 625h2v1h-2zM317 625h2v1h-2zM324 625h6v1h-6zM495 625h2v1h-2zM533 625h2v1h-2zM540 625h6v1h-6zM568 625h1v1h-1zM585 625h1v1h-1zM615 625h1v1h-1zM618 625h4v1h-4zM625 625h1v1h-1zM713 625h1v1h-1zM799 625h1v1h-1zM850 625h4v1h-4zM867 625h2v1h-2zM92 626h6v1h-6zM319 626h5v1h-5zM497 626h2v1h-2zM520 626h2v1h-2zM531 626h2v1h-2zM546 626h4v1h-4zM566 626h2v1h-2zM586 626h2v1h-2zM615 626h1v1h-1zM622 626h3v1h-3zM714 626h1v1h-1zM736 626h1v1h-1zM776 626h9v1h-9zM798 626h1v1h-1zM854 626h6v1h-6zM865 626h2v1h-2zM499 627h1v1h-1zM518 627h2v1h-2zM522 627h4v1h-4zM529 627h2v1h-2zM550 627h4v1h-4zM564 627h2v1h-2zM588 627h1v1h-1zM614 627h1v1h-1zM715 627h1v1h-1zM734 627h2v1h-2zM737 627h2v1h-2zM775 627h1v1h-1zM785 627h1v1h-1zM797 627h1v1h-1zM860 627h5v1h-5zM500 628h2v1h-2zM516 628h2v1h-2zM526 628h3v1h-3zM554 628h2v1h-2zM563 628h1v1h-1zM589 628h1v1h-1zM613 628h1v1h-1zM716 628h2v1h-2zM732 628h2v1h-2zM739 628h2v1h-2zM775 628h1v1h-1zM786 628h1v1h-1zM796 628h1v1h-1zM502 629h2v1h-2zM515 629h1v1h-1zM556 629h3v1h-3zM561 629h2v1h-2zM590 629h2v1h-2zM612 629h1v1h-1zM718 629h1v1h-1zM731 629h1v1h-1zM741 629h2v1h-2zM774 629h1v1h-1zM787 629h1v1h-1zM796 629h1v1h-1zM504 630h4v1h-4zM513 630h2v1h-2zM559 630h2v1h-2zM592 630h2v1h-2zM612 630h1v1h-1zM719 630h1v1h-1zM729 630h2v1h-2zM743 630h3v1h-3zM774 630h1v1h-1zM788 630h2v1h-2zM795 630h1v1h-1zM508 631h5v1h-5zM594 631h2v1h-2zM611 631h1v1h-1zM720 631h9v1h-9zM746 631h2v1h-2zM773 631h1v1h-1zM790 631h1v1h-1zM794 631h1v1h-1zM596 632h3v1h-3zM610 632h1v1h-1zM748 632h3v1h-3zM773 632h1v1h-1zM791 632h1v1h-1zM793 632h1v1h-1zM599 633h3v1h-3zM609 633h1v1h-1zM751 633h3v1h-3zM772 633h1v1h-1zM792 633h1v1h-1zM602 634h4v1h-4zM609 634h1v1h-1zM754 634h4v1h-4zM771 634h1v1h-1zM606 635h3v1h-3zM758 635h3v1h-3zM771 635h1v1h-1zM761 636h2v1h-2zM770 636h1v1h-1zM763 637h1v1h-1zM770 637h1v1h-1zM764 638h2v1h-2zM769 638h1v1h-1zM766 639h2v1h-2zM769 639h1v1h-1zM768 640h1v1h-1z" fill="#1e90ff"/>
<rect x="7" y="3" width="1" height="663" fill="#000"/>
<rect x="7" y="3" width="1194" height="1" fill="#000"/>
<rect x="7" y="449" width="1194" height="1" fill="#000"/>
<rect x="7" y="451" width="1194" height="1" fill="#000"/>
<rect x="7" y="562" width="1194" height="1" fill="#000"/>
<rect x="7" y="564" width="1194" height="1" fill="#000"/>
<rect x="7" y="665" width="1194" height="1" fill="#000"/>
<rect x="1200" y="3" width="1" height="447" fill="#000"/>
<rect x="1200" y="451" width="1" height="112" fill="#000"/>
<rect x="1200" y="564" width="1" height="102" fill="#000"/>
<rect x="1201" y="17" width="2" height="1" fill="#000"/>
<rect x="1201" y="50" width="2" height="1" fill="#000"/>
<rect x="1201" y="83" width="2" height="1" fill="#000"/>
<rect x="1201" y="116" width="2" height="1" fill="#000"/>
<rect x="1201" y="149" width="2" height="1" fill="#000"/>
<rect x="1201" y="182" width="2" height="1" fill="#000"/>
<rect x="1201" y="215" width="2" height="1" fill="#000"/>
<rect x="1201" y="248" width="2" height="1" fill="#000"/>
<rect x="1201" y="281" width="2" height="1" fill="#000"/>
<rect x="1201" y="314" width="2" height="1" fill="#000"/>
<rect x="1201" y="347" width="2" height="1" fill="#000"/>
<rect x="1201" y="380" width="2" height="1" fill="#000"/>
<rect x="1201" y="413" width="2" height="1" fill="#000"/>
<rect x="1201" y="446" width="2" height="1" fill="#000"/>
<rect x="1201" y="453" width="1" height="1" fill="#000"/>
<rect x="1201" y="504" width="1" height="1" fill="#000"/>
<rect x="1201" y="560" width="1" height="1" fill="#000"/>
<rect x="1201" y="566" width="1" height="1" fill="#000"/>
<rect x="1201" y="664" width="1" height="1" fill="#000"/>
<rect x="8" y="666" width="1" height="3" fill="#000"/>
<rect x="72" y="666" width="1" height="3" fill="#000"/>
<rect x="136" y="666" width="1" height="3" fill="#000"/>
<rect x="200" y="666" width="1" height="3" fill="#000"/>
<rect x="264" y="666" width="1" height="3" fill="#000"/>
<rect x="328" y="666" width="1" height="3" fill="#000"/>
<rect x="392" y="666" width="1" height="3" fill="#000"/>
<rect x="456" y="666" width="1" height="3" fill="#000"/>
<rect x="520" y="666" width="1" height="3" fill="#000"/>
<rect x="584" y="666" width="1" height="3" fill="#000"/>
<rect x="648" y="666" width="1" height="3" fill="#000"/>
<rect x="712" y="666" width="1" height="3" fill="#000"/>
<rect x="776" y="666" width="1" height="3" fill="#000"/>
<rect x="840" y="666" width="1" height="3" fill="#000"/>
<rect x="904" y="666" width="1" height="3" fill="#000"/>
</g>
<filter id="ga" x="0" y="0" width="1243" height="689" filterUnits="userSpaceOnUse"><feOffset dx="0" dy="0"/></filter>
<g filter="url(#ga)">
<path d="M11 10H18L14.5 14Z" fill="#000"/>
<text x="22.7" y="15" textLength="65.1" lengthAdjust="spacingAndGlyphs">CHINA300-,H4</text>
<text x="94.1" y="15" textLength="119.9" lengthAdjust="spacingAndGlyphs">4610.2 4629.8 4604.8 4626.2</text>
<text x="11.5" y="463.6" textLength="65.7" lengthAdjust="spacingAndGlyphs">MACD(12,26,9)</text>
<text x="81.1" y="463.6" textLength="25.3" lengthAdjust="spacingAndGlyphs">-18.93</text>
<text x="109.8" y="463.6" textLength="25.4" lengthAdjust="spacingAndGlyphs">-30.13</text>
<text x="11.5" y="576.8" textLength="31.6" lengthAdjust="spacingAndGlyphs">RSI(14)</text>
<text x="46.8" y="576.8" textLength="32.3" lengthAdjust="spacingAndGlyphs">48.0008</text>
<text x="1205.4" y="20.799999999999997" textLength="27.7" lengthAdjust="spacingAndGlyphs">5173.5</text>
<text x="1205.4" y="53.8" textLength="27.7" lengthAdjust="spacingAndGlyphs">5122.5</text>
<text x="1205.4" y="86.80000000000001" textLength="27.7" lengthAdjust="spacingAndGlyphs">5070.0</text>
<text x="1205.4" y="119.80000000000001" textLength="27.7" lengthAdjust="spacingAndGlyphs">5019.0</text>
<text x="1205.4" y="152.8" textLength="27.7" lengthAdjust="spacingAndGlyphs">4968.0</text>
<text x="1205.4" y="185.8" textLength="27.7" lengthAdjust="spacingAndGlyphs">4915.5</text>
<text x="1205.4" y="218.8" textLength="27.7" lengthAdjust="spacingAndGlyphs">4864.5</text>
<text x="1205.4" y="251.8" textLength="27.7" lengthAdjust="spacingAndGlyphs">4813.5</text>
<text x="1205.4" y="284.79999999999995" textLength="27.7" lengthAdjust="spacingAndGlyphs">4761.0</text>
<text x="1205.4" y="317.79999999999995" textLength="27.7" lengthAdjust="spacingAndGlyphs">4710.0</text>
<text x="1205.4" y="350.79999999999995" textLength="27.7" lengthAdjust="spacingAndGlyphs">4659.0</text>
<text x="1205.4" y="383.79999999999995" textLength="27.7" lengthAdjust="spacingAndGlyphs">4606.5</text>
<text x="1205.4" y="416.79999999999995" textLength="27.7" lengthAdjust="spacingAndGlyphs">4555.5</text>
<text x="1205.4" y="449.79999999999995" textLength="27.7" lengthAdjust="spacingAndGlyphs">4504.5</text>
<text x="1203.8" y="462" textLength="22.3" lengthAdjust="spacingAndGlyphs">64.86</text>
<text x="1203.8" y="508.2" textLength="17.3" lengthAdjust="spacingAndGlyphs">0.00</text>
<text x="1203.8" y="559.2" textLength="26.1" lengthAdjust="spacingAndGlyphs">-71.44</text>
<text x="1204.6" y="575" textLength="13.6" lengthAdjust="spacingAndGlyphs">100</text>
<text x="1203" y="599" textLength="9" lengthAdjust="spacingAndGlyphs">70</text>
<text x="1203" y="639" textLength="9" lengthAdjust="spacingAndGlyphs">30</text>
<text x="1203.6" y="661.7" textLength="4.4" lengthAdjust="spacingAndGlyphs">0</text>
<text x="6.5" y="677.7" textLength="53" lengthAdjust="spacingAndGlyphs">23 Nov 2021</text>
<text x="70.5" y="677.7" textLength="56" lengthAdjust="spacingAndGlyphs">29 Nov 01:30</text>
<text x="134.5" y="677.7" textLength="49" lengthAdjust="spacingAndGlyphs">3 Dec 01:30</text>
<text x="198.5" y="677.7" textLength="49" lengthAdjust="spacingAndGlyphs">9 Dec 01:30</text>
<text x="262.5" y="677.7" textLength="53.3" lengthAdjust="spacingAndGlyphs">15 Dec 01:30</text>
<text x="326.5" y="677.7" textLength="53.8" lengthAdjust="spacingAndGlyphs">21 Dec 01:30</text>
<text x="390.5" y="677.7" textLength="54" lengthAdjust="spacingAndGlyphs">27 Dec 01:30</text>
<text x="454.5" y="677.7" textLength="54" lengthAdjust="spacingAndGlyphs">31 Dec 01:30</text>
<text x="518.5" y="677.7" textLength="47.6" lengthAdjust="spacingAndGlyphs">7 Jan 01:30</text>
<text x="582.5" y="677.7" textLength="52.5" lengthAdjust="spacingAndGlyphs">13 Jan 01:30</text>
<text x="646.5" y="677.7" textLength="52" lengthAdjust="spacingAndGlyphs">19 Jan 01:30</text>
<text x="710.5" y="677.7" textLength="52.3" lengthAdjust="spacingAndGlyphs">25 Jan 01:30</text>
<text x="774.5" y="677.7" textLength="48.5" lengthAdjust="spacingAndGlyphs">7 Feb 01:30</text>
<text x="838.5" y="677.7" textLength="53.2" lengthAdjust="spacingAndGlyphs">11 Feb 01:30</text>
<text x="902.5" y="677.7" textLength="53.7" lengthAdjust="spacingAndGlyphs">17 Feb 01:30</text>
<rect x="1203" y="256" width="34" height="11" fill="#ff0000" class="cr"/>
<text x="1205.9" y="265.1" textLength="27.7" lengthAdjust="spacingAndGlyphs" class="w">4791.4</text>
<rect x="1203" y="314" width="34" height="11" fill="#ff2a00" class="cr"/>
<text x="1205.9" y="323.1" textLength="27.7" lengthAdjust="spacingAndGlyphs" class="w">4700.0</text>
<rect x="1203" y="363" width="34" height="11" fill="#000000" class="cr"/>
<text x="1205.9" y="372.1" textLength="27.7" lengthAdjust="spacingAndGlyphs" class="w">4626.2</text>
<rect x="1203" y="369" width="34" height="11" fill="#00c000" class="cr"/>
<text x="1205.9" y="378.1" textLength="27.7" lengthAdjust="spacingAndGlyphs" class="w">4615.0</text>
<rect x="1203" y="430" width="34" height="11" fill="#3a5ae0" class="cr"/>
<text x="1205.9" y="439.1" textLength="27.7" lengthAdjust="spacingAndGlyphs" class="w">4520.0</text>
<g fill="#ff0000">
<text x="823.5" y="179.5" textLength="173" lengthAdjust="spacingAndGlyphs" style="font-family:'Liberation Sans','Noto Sans CJK SC',sans-serif;font-size:35px;fill:#ff0000;stroke:none">多空转折点</text>
<text x="996.7" y="179" textLength="77" lengthAdjust="spacingAndGlyphs" style="font-family:'Liberation Sans','Noto Sans CJK SC',sans-serif;font-size:36.6px;fill:#ff0000;stroke:none">4615</text>
</g>
</g>
</svg></body></html>
